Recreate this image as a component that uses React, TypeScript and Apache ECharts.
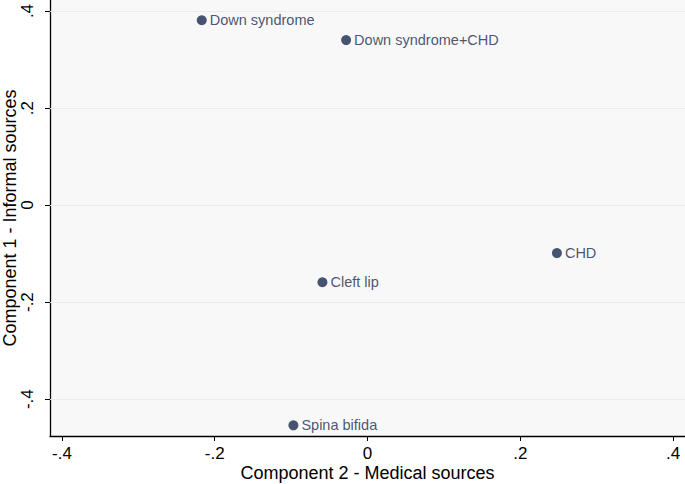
import React, { useEffect, useRef } from "react";
import * as echarts from "echarts";

const names = ["Down syndrome", "Down syndrome+CHD", "CHD", "Cleft lip", "Spina bifida"];
const comp2 = [-0.217, -0.028, 0.248, -0.059, -0.097];
const comp1 = [0.381, 0.34, -0.099, -0.159, -0.454];
const xTicks = [-0.4, -0.2, 0, 0.2, 0.4];
const yTicks = [-0.4, -0.2, 0, 0.2, 0.4];

const fmt = (v: number) => {
  const r = Math.round(v * 10) / 10;
  if (r === 0) return "0";
  return String(r).replace("0.", ".");
};

const FONT = "Liberation Sans, Arial, Helvetica, sans-serif";
const NAVY = "#1a2a4f";

export default function App() {
  const ref = useRef<HTMLDivElement>(null);
  useEffect(() => {
    if (!ref.current) return;
    const chart = echarts.init(ref.current, null, { renderer: "svg" });
    chart.setOption({
      animation: false,
      backgroundColor: "#ffffff",
      grid: {
        left: 50,
        right: 0,
        top: 0,
        bottom: 48,
        show: true,
        backgroundColor: "#f8f8f8",
        borderWidth: 0,
        containLabel: false,
        outerBoundsMode: "none",
      },
      xAxis: {
        type: "value",
        min: -0.4157,
        max: 0.4157,
        name: "Component 2 - Medical sources",
        nameLocation: "middle",
        nameGap: 28,
        nameMoveOverlap: false,
        nameTextStyle: { fontFamily: FONT, fontSize: 18, color: "#000" },
        axisLine: { show: true, onZero: false, lineStyle: { color: "#000", width: 1.3 } },
        axisTick: { show: true, length: 5, customValues: xTicks, lineStyle: { color: "#000" } },
        axisLabel: {
          customValues: xTicks,
          formatter: (v: number) => fmt(v),
          fontFamily: FONT,
          fontSize: 17,
          color: "#000",
          margin: 9,
        },
        splitLine: { show: false },
      },
      yAxis: {
        type: "value",
        min: -0.476,
        max: 0.4227,
        name: "Component 1 - Informal sources",
        nameLocation: "middle",
        nameRotate: 90,
        nameGap: 31,
        nameMoveOverlap: false,
        nameTextStyle: { fontFamily: FONT, fontSize: 18, color: "#000" },
        axisLine: { show: true, onZero: false, lineStyle: { color: "#000", width: 1.3 } },
        axisTick: { show: true, length: 5, customValues: yTicks, lineStyle: { color: "#000" } },
        axisLabel: {
          customValues: yTicks,
          formatter: (v: number) => fmt(v),
          fontFamily: FONT,
          fontSize: 17,
          color: "#000",
          rotate: 90,
          margin: 14,
        },
        splitLine: { show: false },
      },
      series: [
        {
          type: "scatter",
          symbol: "circle",
          symbolSize: 10,
          itemStyle: { color: NAVY },
          data: names.map((n, i) => ({ name: n, value: [comp2[i], comp1[i]] })),
          label: {
            show: true,
            position: "right",
            distance: 3,
            formatter: (p: any) => p.name,
            fontFamily: FONT,
            fontSize: 14.5,
            color: NAVY,
          },
          markLine: {
            silent: true,
            symbol: ["none", "none"],
            label: { show: false },
            lineStyle: { color: "#ebebeb", type: "solid", width: 1.2 },
            data: yTicks.map((t) => ({ yAxis: t })),
            z: 1,
          },
          z: 5,
        },
      ],
    });
    return () => chart.dispose();
  }, []);
  return (
    <div
      ref={ref}
      style={{ position: "fixed", left: 0, top: 0, width: 685, height: 484 }}
    />
  );
}
